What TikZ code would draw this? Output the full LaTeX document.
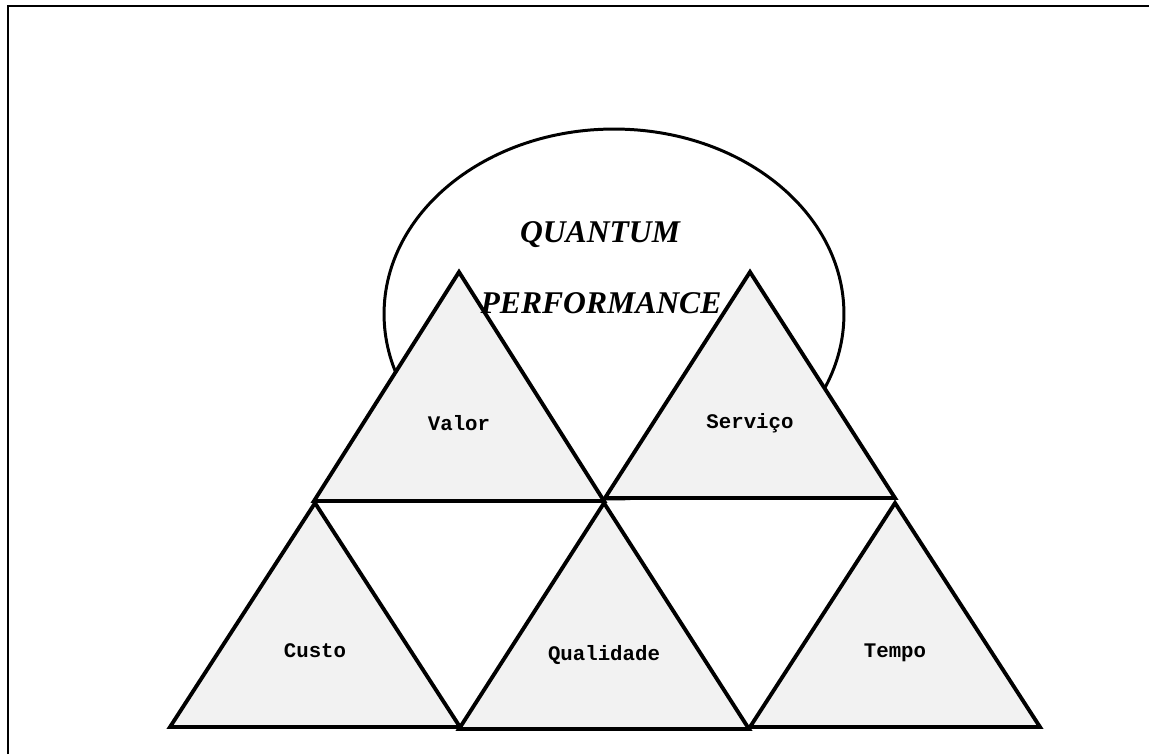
\documentclass[tikz,border=0pt]{standalone}
\usepackage{fontspec}
\setmainfont{Liberation Serif}
\setmonofont{Liberation Mono}
\usetikzlibrary{shapes.geometric}
\definecolor{trifill}{RGB}{242,242,242}
\tikzset{
  frame/.style  = {line width=1.1pt},
  oval/.style   = {ellipse, draw, line width=1.7pt, fill=white,
                   minimum width=9.2cm, minimum height=7.4cm},
  tri/.style    = {draw, line width=2.2pt, fill=trifill},
  title/.style  = {font=\fontsize{18}{20}\selectfont\bfseries\itshape, anchor=base},
  lbl/.style    = {font=\fontsize{11.8}{13}\selectfont\ttfamily\bfseries, anchor=base},
}
\begin{document}
\begin{tikzpicture}[x=0.02cm, y=-0.02cm]
  \useasboundingbox (0,0) rectangle (1149,754);

  % ---- frame ----
  \coordinate (fbl) at (8,754);
  \coordinate (ftl) at (8,6);
  \coordinate (ftr) at (1149,6);
  \draw[frame] (fbl) -- (ftl) -- (ftr);

  % ---- quantum oval ----
  \node[oval] (qp) at (614,314) {};

  % ---- triangles: name/apex x/apex y/height/text/baseline ----
  \foreach \n/\ax/\ay/\h/\txt/\ty in {valor/459/272/229/Valor/430,
      servico/750/272/226/Serviço/428,
      custo/315/503/224/Custo/657,
      qualidade/604/503/226/Qualidade/660,
      tempo/895/503/224/Tempo/657}{
    \draw[tri] (\ax,\ay) -- ++(-145,\h) -- ++(290,0) -- cycle;
    \node[lbl] (\n) at (\ax,\ty) {\txt};
  }

  % ---- title ----
  \node[title] (quantum) at (600,242) {QUANTUM};
  \node[title] (perf) at (601,313) {PERFORMANCE};

\end{tikzpicture}
\end{document}
